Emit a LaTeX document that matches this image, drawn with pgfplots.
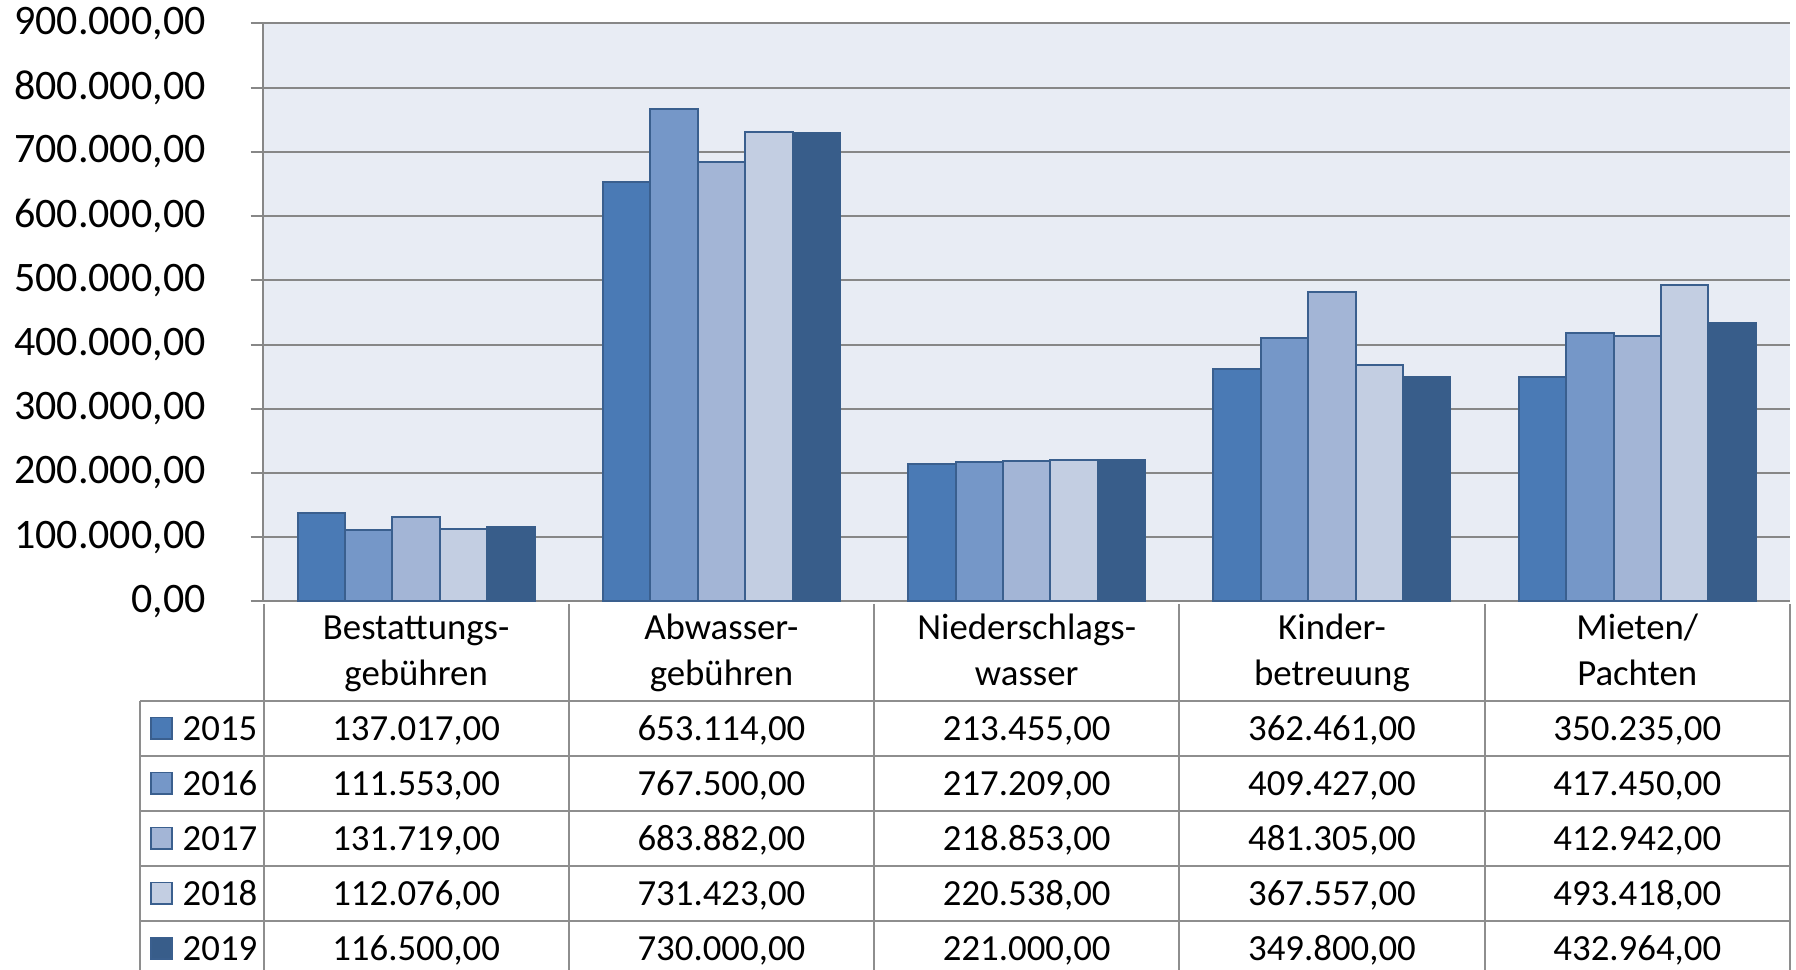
\documentclass[border=0pt]{standalone}
\usepackage{pgfplots}
\pgfplotsset{compat=1.18}
\usepackage{pgfplotstable}
\usepackage{fontspec}
\setmainfont{Carlito}
\definecolor{cA}{HTML}{4A7AB5}
\definecolor{cB}{HTML}{7597C8}
\definecolor{cC}{HTML}{A3B5D6}
\definecolor{cD}{HTML}{C3CEE2}
\definecolor{cE}{HTML}{385D8A}
\definecolor{bord}{HTML}{3A5F8E}
\definecolor{bg}{HTML}{E8ECF4}
\definecolor{grd}{HTML}{878787}
\definecolor{tbl}{HTML}{8E8E8E}

\pgfplotstableread{
x y2015 y2016 y2017 y2018 y2019
0 137017 111553 131719 112076 116500
1 653114 767500 683882 731423 730000
2 213455 217209 218853 220538 221000
3 362461 409427 481305 367557 349800
4 350235 417450 412942 493418 432964
}\data

% row: index, year, colour, five values
\newcommand\trow[8]{%
  \pgfmathsetmacro{\cy}{-31.875-13.75*#1}%
  \pgfmathsetmacro{\by}{\cy-2.9}%
  \fill[#3, draw=bord, line width=0.4pt] (-28.1,\cy-2.7) rectangle (-22.9,\cy+2.7);
  \node[anchor=base west] at (-20.4,\by) {#2};
  \node at (38.16,\by) {#4};
  \node at (114.48,\by) {#5};
  \node at (190.8,\by) {#6};
  \node at (267.12,\by) {#7};
  \node at (343.44,\by) {#8};
}

\begin{document}
\begin{tikzpicture}[x=1pt,y=1pt]
\begin{axis}[
  at={(0,-0.7)}, anchor=south west,
  scale only axis, width=381.6pt, height=144.5pt,
  xmin=-0.5, xmax=4.5, ymin=0, ymax=900000,
  xtick=\empty,
  ytick={0,100000,...,900000},
  scaled y ticks=false,
  yticklabel style={font=\fontsize{10.5}{12}\selectfont, xshift=-7.75pt,
    /pgf/number format/fixed, /pgf/number format/fixed zerofill,
    /pgf/number format/precision=2, /pgf/number format/use comma,
    /pgf/number format/1000 sep={.}, /pgf/number format/assume math mode=true},
  axis lines*=left,
  axis line style={-, grd, line width=0.5pt},
  ymajorgrids, grid style={grd, line width=0.5pt},
  major tick length=3.2pt, tick align=outside, ytick pos=left,
  tick style={grd, line width=0.5pt},
  axis background/.style={fill=bg},
  ybar=0pt, bar width=11.85pt,
]
\addplot[fill=cA, draw=bord, line width=0.5pt] table[x=x,y=y2015]{\data};
\addplot[fill=cB, draw=bord, line width=0.5pt] table[x=x,y=y2016]{\data};
\addplot[fill=cC, draw=bord, line width=0.5pt] table[x=x,y=y2017]{\data};
\addplot[fill=cD, draw=bord, line width=0.5pt] table[x=x,y=y2018]{\data};
\addplot[fill=cE, draw=cE, line width=0.5pt] table[x=x,y=y2019]{\data};
\end{axis}
% data table
\begin{scope}[tbl, line width=0.5pt]
\foreach \k in {0,...,5} \draw (76.32*\k,-0.7) -- (76.32*\k,-92.25);
\draw (-30.875,-25) -- (-30.875,-92.25);
\foreach \y in {-25,-38.75,-52.5,-66.25,-80} \draw (-30.875,\y) -- (381.6,\y);
\end{scope}
\begin{scope}[every node/.style={font=\fontsize{9.2}{11.5}\selectfont, inner sep=0pt, anchor=base, text=black}]
\node at (38.16,-9.75) {Bestattungs-};
\node at (38.16,-21.25) {gebühren};
\node at (114.48,-9.75) {Abwasser-};
\node at (114.48,-21.25) {gebühren};
\node at (190.8,-9.75) {Niederschlags-};
\node at (190.8,-21.25) {wasser};
\node at (267.12,-9.75) {Kinder-};
\node at (267.12,-21.25) {betreuung};
\node at (343.44,-9.75) {Mieten/};
\node at (343.44,-21.25) {Pachten};
\trow{0}{2015}{cA}{137.017,00}{653.114,00}{213.455,00}{362.461,00}{350.235,00}
\trow{1}{2016}{cB}{111.553,00}{767.500,00}{217.209,00}{409.427,00}{417.450,00}
\trow{2}{2017}{cC}{131.719,00}{683.882,00}{218.853,00}{481.305,00}{412.942,00}
\trow{3}{2018}{cD}{112.076,00}{731.423,00}{220.538,00}{367.557,00}{493.418,00}
\trow{4}{2019}{cE}{116.500,00}{730.000,00}{221.000,00}{349.800,00}{432.964,00}
\end{scope}
\pgfresetboundingbox
\useasboundingbox (-65.875,-92.25) rectangle (383.125,150.25);
\end{tikzpicture}
\end{document}
